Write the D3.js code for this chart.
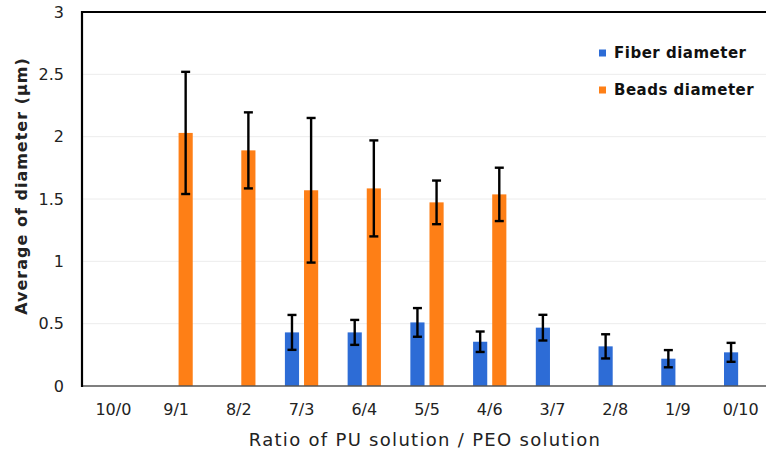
<!DOCTYPE html>
<html>
<head>
<meta charset="utf-8">
<script src="https://cdn.jsdelivr.net/npm/d3@7"></script>
<style>
  body { margin: 0; background: #fff; }
  svg { display: block; }
</style>
</head>
<body>
<svg id="chart" width="766" height="465"></svg>
<script>
// ratio categories (PU / PEO)
const categories = ['10/0', '9/1', '8/2', '7/3', '6/4', '5/5', '4/6', '3/7', '2/8', '1/9', '0/10'];
const seriesNames = ['Fiber diameter', 'Beads diameter'];
const fiberMean = [null, null, null, 0.43, 0.43, 0.51, 0.355, 0.468, 0.318, 0.219, 0.27];
const fiberErr  = [null, null, null, 0.14, 0.10, 0.115, 0.082, 0.103, 0.097, 0.069, 0.076];
const beadsMean = [null, 2.03, 1.89, 1.57, 1.585, 1.473, 1.537, null, null, null, null];
const beadsErr  = [null, 0.49, 0.305, 0.58, 0.385, 0.175, 0.214, null, null, null, null];
const yTicks = [0, 0.5, 1, 1.5, 2, 2.5, 3];

const colors = { 'Fiber diameter': '#2d6cd6', 'Beads diameter': '#fe7f16' };
const fontFam = '"DejaVu Sans", sans-serif';

const svg = d3.select('#chart');
const mLeft = 82, mTop = 12, mBottom = 386, mRight = 772;

const x = d3.scaleBand().domain(categories).range([mLeft, mRight]).padding(0);
const x1 = d3.scaleBand().domain(seriesNames).range([0, x.bandwidth()])
  .paddingInner(0.26).paddingOuter(0.77);
const y = d3.scaleLinear().domain([0, 3]).range([mBottom, mTop]);

// build rows for bars
const rows = [];
categories.forEach((c, i) => {
  if (fiberMean[i] != null) rows.push({ cat: c, s: 'Fiber diameter', v: fiberMean[i], e: fiberErr[i] });
  if (beadsMean[i] != null) rows.push({ cat: c, s: 'Beads diameter', v: beadsMean[i], e: beadsErr[i] });
});

// gridlines
svg.append('g').selectAll('line')
  .data(yTicks.filter(t => t > 0 && t < 3))
  .join('line')
  .attr('x1', mLeft).attr('x2', 766)
  .attr('y1', d => y(d)).attr('y2', d => y(d))
  .attr('stroke', '#ececec').attr('stroke-width', 1);

// bars
svg.append('g').selectAll('rect')
  .data(rows)
  .join('rect')
  .attr('x', d => x(d.cat) + x1(d.s))
  .attr('y', d => y(d.v))
  .attr('width', x1.bandwidth())
  .attr('height', d => y(0) - y(d.v))
  .attr('fill', d => colors[d.s]);

// baseline
svg.append('line')
  .attr('x1', mLeft).attr('x2', 766)
  .attr('y1', y(0)).attr('y2', y(0))
  .attr('stroke', '#555').attr('stroke-width', 1.3);

// error bars
const eb = svg.append('g').attr('stroke', '#000').attr('stroke-width', 2.4);
rows.forEach(d => {
  const cx = x(d.cat) + x1(d.s) + x1.bandwidth() / 2;
  eb.append('line').attr('x1', cx).attr('x2', cx)
    .attr('y1', y(d.v + d.e)).attr('y2', y(d.v - d.e));
  [d.v + d.e, d.v - d.e].forEach(v => {
    eb.append('line').attr('x1', cx - 4.5).attr('x2', cx + 4.5)
      .attr('y1', y(v)).attr('y2', y(v));
  });
});

// frame: left axis and top line
svg.append('path')
  .attr('d', `M${mLeft},${mBottom + 1}V${mTop}H766`)
  .attr('fill', 'none').attr('stroke', '#000').attr('stroke-width', 2.2);

// y axis labels
const yAxis = svg.append('g')
  .attr('transform', `translate(${mLeft},0)`)
  .call(d3.axisLeft(y).tickValues(yTicks).tickSize(0).tickPadding(18).tickFormat(d3.format('~g')));
yAxis.select('.domain').remove();
yAxis.selectAll('text').attr('font-family', fontFam).attr('font-size', 16).attr('fill', '#222');

// x axis labels
const xAxis = svg.append('g')
  .attr('transform', `translate(0,${mBottom})`)
  .call(d3.axisBottom(x).tickSize(0).tickPadding(18));
xAxis.select('.domain').remove();
xAxis.selectAll('text').attr('font-family', fontFam).attr('font-size', 16).attr('fill', '#222');

// axis titles
svg.append('text')
  .attr('x', 425).attr('y', 441)
  .attr('text-anchor', 'middle').attr('dominant-baseline', 'middle')
  .attr('font-family', fontFam).attr('font-size', 18).attr('letter-spacing', 1.3).attr('fill', '#222')
  .text('Ratio of PU solution / PEO solution');

svg.append('text')
  .attr('transform', 'translate(22,186) rotate(-90)')
  .attr('text-anchor', 'middle').attr('dominant-baseline', 'middle')
  .attr('font-family', fontFam).attr('font-size', 16).attr('letter-spacing', 1)
  .attr('font-weight', 'bold').attr('fill', '#222')
  .text('Average of diameter (μm)');

// legend
const legend = svg.append('g');
seriesNames.forEach((s, i) => {
  const ly = 53 + i * 37;
  legend.append('rect')
    .attr('x', 599).attr('y', ly - 3.5).attr('width', 7).attr('height', 7)
    .attr('fill', colors[s]);
  legend.append('text')
    .attr('x', 614).attr('y', ly)
    .attr('dominant-baseline', 'middle')
    .attr('font-family', fontFam).attr('font-size', 15).attr('letter-spacing', 0.5)
    .attr('font-weight', 'bold').attr('fill', '#111')
    .text(s);
});
</script>
</body>
</html>
